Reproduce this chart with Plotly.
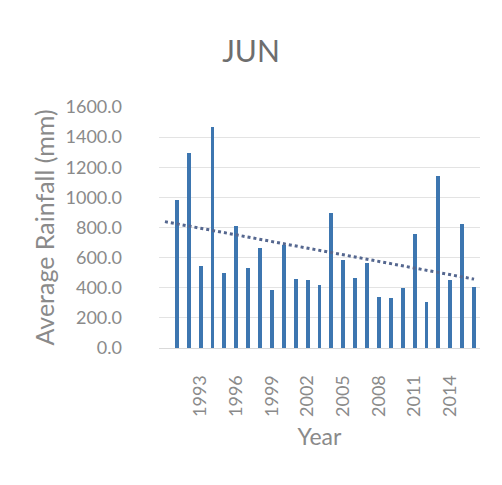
import numpy as np
import plotly.graph_objects as go

# June average rainfall per year
years = list(range(1991, 2017))
rainfall = [980, 1292, 542, 1468, 498, 813, 534, 661, 384, 681, 461, 454, 421,
            895, 582, 467, 567, 339, 335, 399, 758, 306, 1144, 450, 825, 405]
tick_years = [1993, 1996, 1999, 2002, 2005, 2008, 2011, 2014]
y_ticks = [0, 200, 400, 600, 800, 1000, 1200, 1400, 1600]

# linear trend fitted over the yearly totals
slope, intercept = np.polyfit(years, rainfall, 1)
trend_x = np.array([1990, 2016])
trend_y = slope * trend_x + intercept

grey = "#8a8a8a"
font_family = "Lato, 'Open Sans', sans-serif"

fig = go.Figure()
fig.add_trace(go.Bar(
    x=years, y=rainfall, width=0.32,
    marker=dict(color="#3d76b0", line=dict(width=0)),
    showlegend=False,
))
fig.add_trace(go.Scatter(
    x=trend_x, y=trend_y, mode="lines",
    line=dict(color="#55678f", width=3, dash="dot"),
    showlegend=False,
))

fig.update_layout(
    width=502, height=485,
    margin=dict(l=159, r=22, t=107, b=137),
    paper_bgcolor="white", plot_bgcolor="white",
    font=dict(family=font_family, color=grey),
    title=dict(text="JUN", x=0.5, xanchor="center", y=0.893, yanchor="middle",
               font=dict(size=30, color="#6e6e6e", family=font_family)),
    xaxis=dict(
        range=[1989.5, 2016.5], tickmode="array", tickvals=tick_years,
        ticktext=[str(v) for v in tick_years], tickangle=-90,
        tickfont=dict(size=18, color=grey), showgrid=False,
        showline=True, linecolor="#d9d9d9", linewidth=1,
        ticks="", ticklabelstandoff=19, zeroline=False,
        title=dict(text="Year", font=dict(size=23, color=grey), standoff=12),
    ),
    yaxis=dict(
        range=[0, 1600], tickvals=y_ticks, tickformat=".1f",
        tickfont=dict(size=18, color=grey),
        showgrid=True, gridcolor="#e3e3e3", gridwidth=1,
        zeroline=False, showline=False, ticks="", ticklabelstandoff=36,
        title=dict(text="Average Rainfall (mm)", font=dict(size=25, color=grey), standoff=3),
    ),
    bargap=0,
)

fig.write_html("out.html")
